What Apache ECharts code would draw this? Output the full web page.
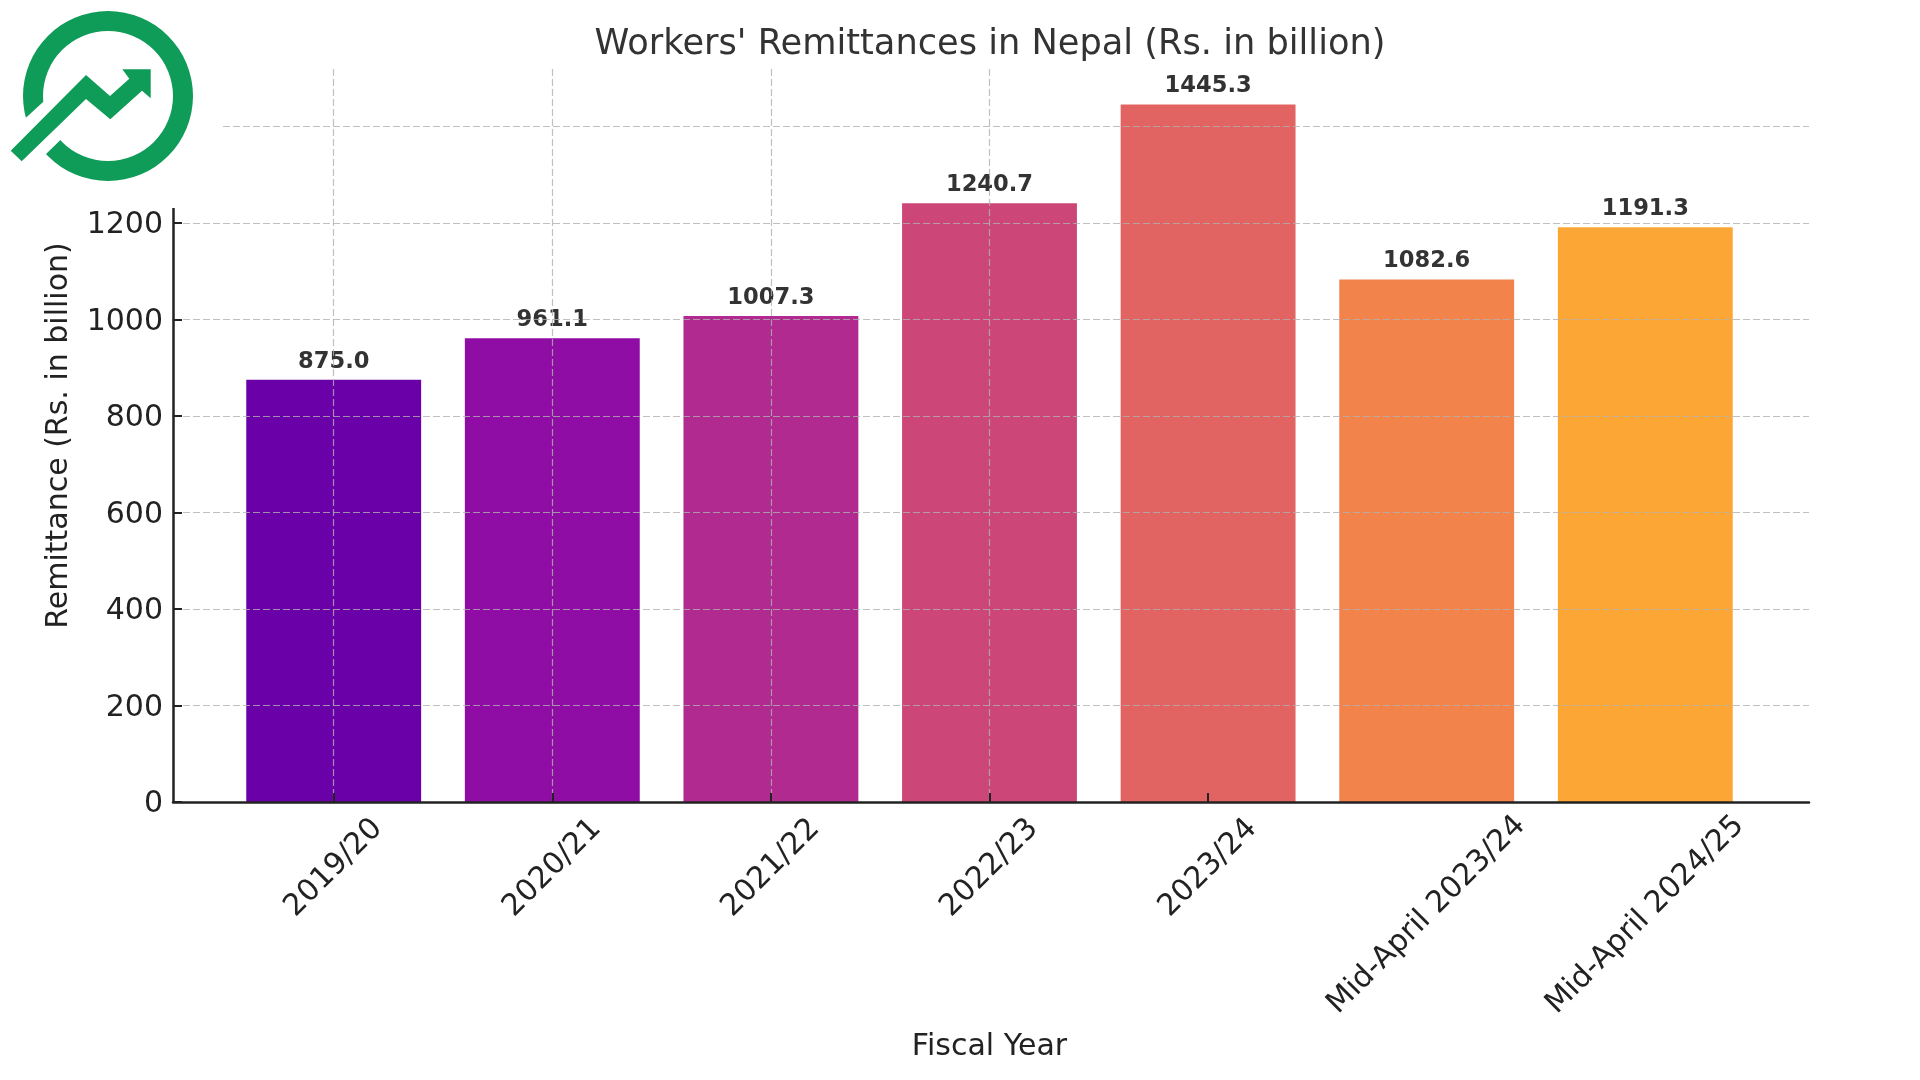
<!DOCTYPE html>
<html>
<head>
<meta charset="utf-8">
<title>Workers' Remittances in Nepal</title>
<script src="https://cdn.jsdelivr.net/npm/echarts@6/dist/echarts.min.js"></script>
<style>
    html, body { margin: 0; padding: 0; background: #fff; }
    #chart { width: 1920px; height: 1080px; }
</style>
</head>
<body>
<div id="chart"></div>
<script>
// 数据
const categories = ['2019/20', '2020/21', '2021/22', '2022/23', '2023/24', 'Mid-April 2023/24', 'Mid-April 2024/25'];
const remittance = [875.0, 961.1, 1007.3, 1240.7, 1445.3, 1082.6, 1191.3];
const barColors = ['#6a00a8', '#8f0da4', '#b12a90', '#cc4778', '#e16462', '#f2844b', '#fca636'];
const yMax = 1519;
const yStep = 200;

const font = '"DejaVu Sans"';
const inkColor = '#222';
const logoColor = '#0f9b58';
const gridLine = { show: true, showMaxLine: false, lineStyle: { color: 'rgba(176,176,176,0.8)', width: 1.2, type: [7, 3] } };
const isLong = (name) => name.length > 10;

const chart = echarts.init(document.getElementById('chart'));
chart.setOption({
    animation: false,
    backgroundColor: '#fff',
    textStyle: { fontFamily: font },
    title: {
        text: "Workers' Remittances in Nepal (Rs. in billion)",
        left: 985,
        top: 22,
        textAlign: 'center',
        textStyle: { fontFamily: font, fontSize: 35.2, fontWeight: 'normal', color: '#333' },
    },
    grid: [
        { left: 173, right: 111, top: 69, bottom: 278 }, // 外框：y轴和底线
        { left: 224.4, right: 165.4, top: 69, bottom: 278 }, // 柱子区域
    ],
    xAxis: [
        {
            type: 'value', gridIndex: 0, min: 0, max: 1, z: 6,
            name: 'Fiscal Year', nameLocation: 'middle', nameGap: 230,
            nameTextStyle: { fontFamily: font, fontSize: 30, color: inkColor, padding: [0, 3, 0, 0] },
            axisLine: { show: true, onZero: false, lineStyle: { color: inkColor, width: 2.5 } },
            axisTick: { show: false }, axisLabel: { show: false }, splitLine: { show: false },
        },
        {
            type: 'category', gridIndex: 1, data: categories, z: 5,
            axisLine: { show: false },
            axisTick: { show: true, alignWithLabel: true, inside: true, length: 9, lineStyle: { color: inkColor, width: 2 } },
            splitLine: { ...gridLine, alignWithLabel: true },
            axisLabel: {
                interval: (i, name) => !isLong(name), rotate: 45, margin: 66,
                align: 'center', verticalAlign: 'middle',
                fontFamily: font, fontSize: 30, color: inkColor,
            },
        },
        {
            // 长标签单独一条轴，外边距不同
            type: 'category', gridIndex: 1, data: categories, position: 'bottom', z: 5,
            axisLine: { show: false }, axisTick: { show: false }, splitLine: { show: false },
            axisLabel: {
                interval: (i, name) => isLong(name), rotate: 45, margin: 113,
                align: 'center', verticalAlign: 'middle',
                fontFamily: font, fontSize: 30, color: inkColor,
            },
        },
    ],
    yAxis: [
        {
            type: 'value', gridIndex: 0, min: 0, max: yMax, interval: yStep, z: 5,
            name: 'Remittance (Rs. in billion)', nameLocation: 'middle', nameGap: 99, nameRotate: 90,
            nameTextStyle: { fontFamily: font, fontSize: 30, color: inkColor },
            axisLine: { show: true, lineStyle: { color: inkColor, width: 2.5 } },
            axisTick: { show: true, inside: true, length: 9, lineStyle: { color: inkColor, width: 2 } },
            axisLabel: {
                margin: 10, showMaxLabel: false,
                formatter: (v) => '{tick|' + v + '}',
                rich: { tick: { fontFamily: font, fontSize: 30, color: inkColor, padding: [5, 0, 0, 0] } },
            },
            splitLine: gridLine,
        },
        { type: 'value', gridIndex: 1, min: 0, max: yMax, show: false },
    ],
    series: [
        {
            type: 'bar',
            xAxisIndex: 1,
            yAxisIndex: 1,
            z: 2,
            barWidth: '80%',
            data: remittance.map((value, i) => ({ value, itemStyle: { color: barColors[i] } })),
            label: {
                show: true, position: 'top', distance: 6.5,
                formatter: (p) => p.value.toFixed(1),
                fontFamily: font, fontSize: 22.6, fontWeight: 'bold', color: '#333',
            },
        },
    ],
    graphic: [
        // 左上角白底和标志
        { type: 'rect', z: 20, shape: { x: 0, y: 0, width: 220, height: 208 }, style: { fill: '#fff' } },
        { type: 'ring', z: 21, shape: { cx: 108, cy: 96, r: 85, r0: 65 }, style: { fill: logoColor } },
        {
            type: 'polygon', z: 22,
            shape: { points: [[21, 122.3], [46.3, 98.9], [63, 137.4], [42.7, 157.2]] },
            style: { fill: '#fff' },
        },
        {
            type: 'polygon', z: 23,
            shape: {
                points: [[10.7, 150.7], [86, 75], [110, 96], [129.3, 78.7], [122.3, 69.3], [150.7, 69.3],
                    [150.7, 98.3], [142, 90.7], [110.3, 119.3], [86, 99], [21.7, 161.3]],
            },
            style: { fill: logoColor },
        },
    ],
});
</script>
</body>
</html>
